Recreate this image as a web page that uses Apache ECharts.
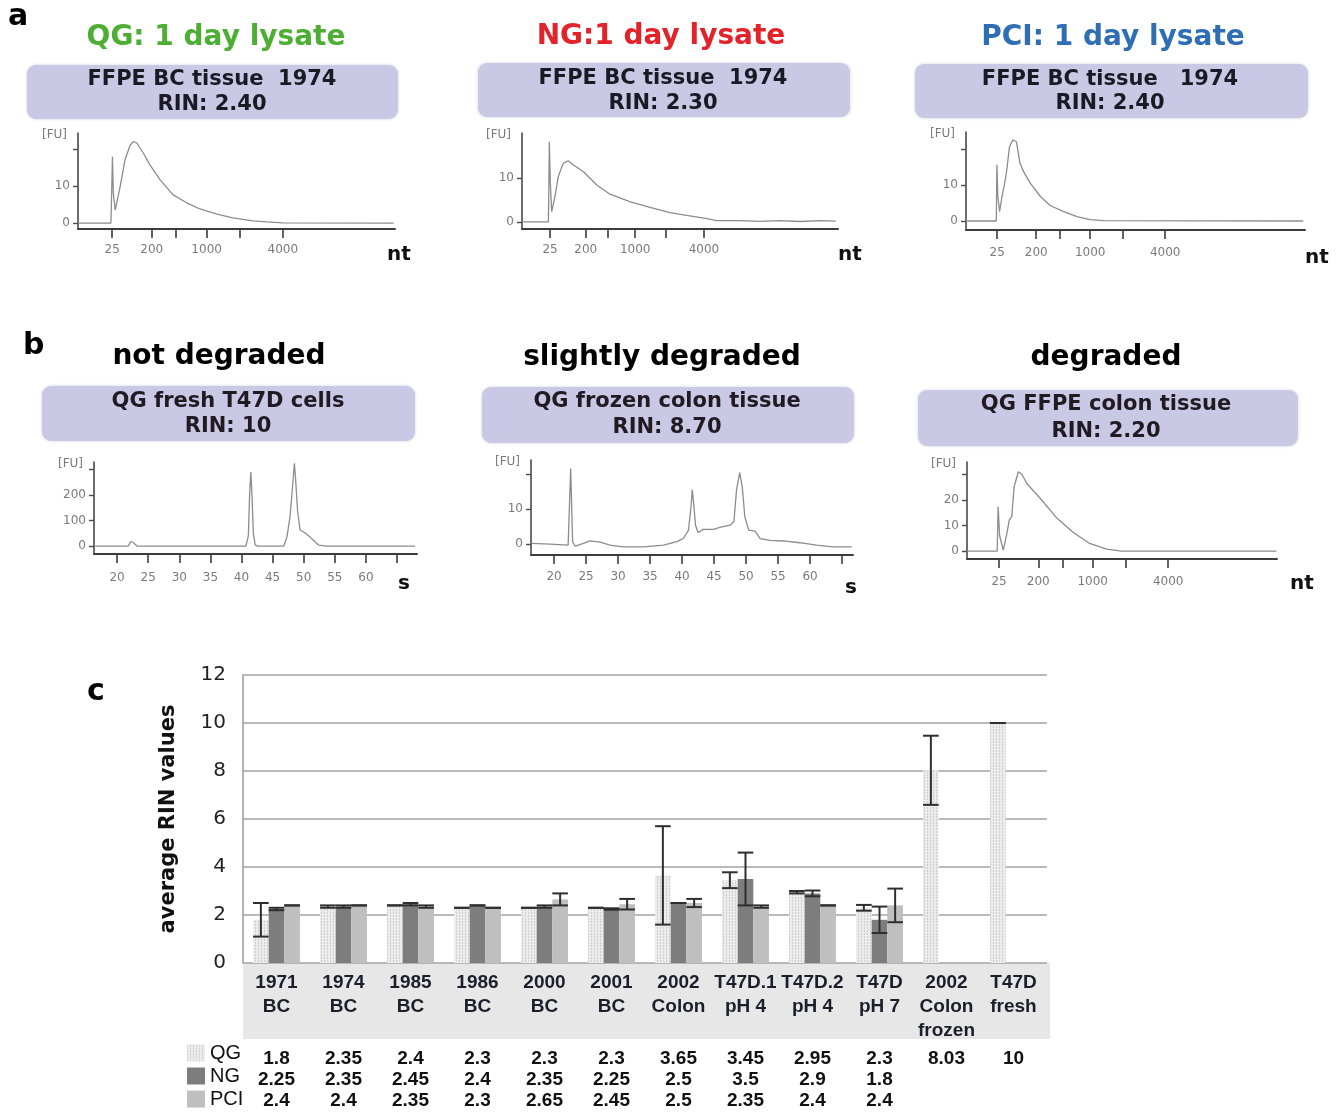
<!DOCTYPE html>
<html><head><meta charset="utf-8">
<script src="https://cdn.jsdelivr.net/npm/echarts@6/dist/echarts.min.js"></script>
<style>html,body{margin:0;padding:0;background:#fff}#c{width:1338px;height:1113px}</style>
</head><body><div id="c"></div>
<script>
// ---------- Panel c data ----------
const categories = ['1971\nBC','1974\nBC','1985\nBC','1986\nBC','2000\nBC','2001\nBC','2002\nColon','T47D.1\npH 4','T47D.2\npH 4','T47D\npH 7','2002\nColon\nfrozen','T47D\nfresh'];
const qgValues  = [1.8, 2.35, 2.4, 2.3, 2.3, 2.3, 3.65, 3.45, 2.95, 2.3, 8.03, 10];
const ngValues  = [2.25, 2.35, 2.45, 2.4, 2.35, 2.25, 2.5, 3.5, 2.9, 1.8, null, null];
const pciValues = [2.4, 2.4, 2.35, 2.3, 2.65, 2.45, 2.5, 2.35, 2.4, 2.4, null, null];
const qgErr  = [0.7, 0.05, 0, 0, 0, 0, 2.05, 0.33, 0.05, 0.12, 1.44, 0];
const ngErr  = [0.05, 0.05, 0.05, 0, 0.05, 0.03, 0, 1.1, 0.12, 0.55, null, null];
const pciErr = [0, 0, 0.05, 0, 0.25, 0.22, 0.17, 0.05, 0, 0.7, null, null];
const rinTicks = [0, 2, 4, 6, 8, 10, 12];

// ---------- Electropherogram axes ----------
const ladderSec = [22.5, 29, 33, 38, 43.5, 50.5];
const ladderNt = ['25', '200', '500', '1000', '2000', '4000'];
const ladderLabelSec = [22.5, 29, 38, 50.5];
const timeTicks = [20, 25, 30, 35, 40, 45, 50, 55, 60, 65];
const timeLabels = [20, 25, 30, 35, 40, 45, 50, 55, 60];

// traces: [time (s), fluorescence (FU)]
const traceQG1974 = [[16.9,0],[22.3,0],[22.45,10],[22.55,17.9],[22.7,8],[23.0,3.5],[23.8,9.7],[24.6,17],[25.45,21],[26.0,22],[26.55,21.6],[27.6,18.9],[28.7,15.7],[30.4,11.6],[32.5,7.6],[34.8,5.4],[36.9,3.8],[39.7,2.4],[42.3,1.4],[45.6,0.6],[47.9,0.3],[50.5,0.05],[68.7,0]];
const traceNG1974 = [[17.4,0],[22.2,0],[22.3,9],[22.37,18.2],[22.55,9],[22.8,2.3],[23.4,5.8],[24.0,10.3],[24.9,13.3],[25.8,13.9],[26.7,13],[28.6,11.4],[31.0,8.4],[33.4,6.3],[37.0,4.6],[40.7,3.3],[44.3,2.1],[47.9,1.4],[50.8,0.8],[52.8,0.3],[57,0.3],[60.7,0.15],[64.3,0.3],[68,0.1],[71.6,0.3],[74.5,0.2]];
const tracePCI1974 = [[17.3,0],[22.35,0],[22.45,15.6],[22.6,7],[22.9,2.6],[23.3,6.8],[23.7,10],[24.1,14.2],[24.55,20.6],[25.1,22.5],[25.7,22],[26.3,16],[26.9,13.7],[28.0,10.5],[29.7,6.8],[31.3,4.3],[33.6,2.6],[35.8,1.2],[38.0,0.4],[40.2,0.1],[73.5,0]];
const traceFreshT47D = [[16.5,0],[21.8,0],[22.2,18],[22.4,24],[22.7,12],[23.2,0],[40.7,0],[41.1,40],[41.3,200],[41.5,290],[41.7,190],[41.9,50],[42.2,5],[42.6,0],[46.8,0],[47.3,36],[47.8,115],[48.2,232],[48.5,324],[48.7,260],[49.0,141],[49.4,63],[50.2,52],[51.0,36],[51.8,17],[52.4,4],[53.7,0],[67.9,0]];
const traceFrozenColon = [[16.5,0.2],[19.4,0],[22.2,-0.3],[22.6,21.6],[22.9,0.7],[23.3,-0.6],[24.6,0.2],[25.6,0.9],[27.2,0.6],[28.75,-0.3],[30.8,-0.8],[34.0,-0.8],[37.1,-0.3],[39.2,0.7],[40.2,1.6],[41.0,4],[41.4,10.7],[41.6,15.6],[41.9,9.7],[42.1,5.4],[42.5,3.3],[43.3,4.2],[44.9,4.2],[45.9,4.8],[47.5,5.4],[48.1,6.4],[48.5,15.4],[49.0,20.4],[49.4,16.4],[49.8,7.8],[50.4,4],[51.4,3.7],[52.2,1.6],[53.75,1.1],[55.8,0.9],[58.4,0.4],[61.0,-0.3],[63.6,-0.8],[66.5,-0.8]];
const traceFFPEColon = [[17.2,0],[22.2,0],[22.35,17.4],[22.6,6],[23.2,0.4],[23.8,6.9],[24.2,12.2],[24.6,13.5],[25.0,25.2],[25.7,31.1],[26.25,30.2],[27.1,26.5],[29.3,20.7],[32.0,13.1],[34.8,7.3],[37.5,3.0],[40.3,0.8],[42.8,0],[68.4,0]];

const panels = [
  {rect:[78,133,317,96],  x:[16.9,68.9], y:[-1.6,24.3], yl:[0,10], yt:[0,10,20], kind:'nt', data:traceQG1974, lm:15},
  {rect:[522,133,316,96], x:[17.4,74.9], y:[-1.6,20.2], yl:[0,10], yt:[0,10], kind:'nt', data:traceNG1974, lm:15},
  {rect:[966,132,339,98], x:[17.3,73.8], y:[-2.5,24.7], yl:[0,10], yt:[0,10,20], kind:'nt', data:tracePCI1974, lm:17},
  {rect:[94,462,323,92],  x:[16.3,68.2], y:[-31,329], yl:[0,100,200], yt:[0,100,200,300], kind:'s', data:traceFreshT47D, lm:18},
  {rect:[531,460,322,95], x:[16.4,66.7], y:[-3.1,24.0], yl:[0,10], yt:[0,10,20], kind:'s', data:traceFrozenColon, lm:16},
  {rect:[967,462,310,97], x:[17.2,68.5], y:[-3.1,34.9], yl:[0,10,20], yt:[0,10,20,30], kind:'nt', data:traceFFPEColon, lm:17}
];

const VERD = '"DejaVu Sans", Verdana, sans-serif';
const ARIAL = '"Liberation Sans", Arial, sans-serif';
const grids = [], xAxes = [], yAxes = [], series = [];

panels.forEach((p, i) => {
  grids.push({left:p.rect[0], top:p.rect[1], width:p.rect[2], height:p.rect[3], outerBoundsMode:'none', containLabel:false});
  xAxes.push({
    type:'value', gridIndex:i, min:p.x[0], max:p.x[1], position:'bottom',
    axisLine:{show:true, onZero:false, lineStyle:{color:'#3c3c3c', width:2}},
    axisTick:{show:true, length:9, customValues: p.kind==='nt' ? ladderSec : timeTicks, lineStyle:{color:'#3c3c3c', width:1.6}},
    axisLabel:{show:true, customValues: p.kind==='nt' ? ladderLabelSec : timeLabels, margin:p.lm, fontSize:12, color:'#7a7a7a', fontFamily:VERD,
      formatter: v => { if (p.kind==='nt') { const k = ladderSec.indexOf(v); return k>=0 ? ladderNt[k] : ''; } return String(v); }},
    splitLine:{show:false}
  });
  yAxes.push({
    type:'value', gridIndex:i, min:p.y[0], max:p.y[1], position:'left',
    name:'[FU]', nameLocation:'end', nameGap:-2,
    nameTextStyle:{align:'right', verticalAlign:'middle', fontSize:12, color:'#7a7a7a', fontFamily:VERD, padding:[0,11,0,0]},
    axisLine:{show:true, onZero:false, lineStyle:{color:'#4a4a4a', width:1.6}},
    axisTick:{show:true, length:5, customValues:p.yt, lineStyle:{color:'#4a4a4a', width:1.4}},
    axisLabel:{show:true, customValues:p.yl, margin:8, fontSize:12, color:'#7a7a7a', fontFamily:VERD},
    splitLine:{show:false}
  });
  series.push({type:'line', xAxisIndex:i, yAxisIndex:i, data:p.data, showSymbol:false, symbol:'none',
    lineStyle:{color:'#8c8c8c', width:1.3}, silent:true, z:3});
});

// ---------- Panel c grid ----------
const CI = 6;
grids.push({left:243, top:675, width:804, height:288, outerBoundsMode:'none', containLabel:false});
xAxes.push({
  type:'category', gridIndex:CI, data:categories, position:'bottom',
  axisLine:{show:false}, axisTick:{show:false},
  axisLabel:{interval:0, margin:8, fontSize:19, lineHeight:24, fontWeight:'bold', color:'#1d1d2b', fontFamily:ARIAL}
});
xAxes.push({
  type:'category', gridIndex:CI, data:categories, position:'bottom', offset:80,
  axisLine:{show:false}, axisTick:{show:false},
  axisLabel:{interval:0, margin:5, fontSize:19, lineHeight:21, fontWeight:'bold', color:'#111', fontFamily:ARIAL,
    formatter:(v, idx) => [qgValues[idx], ngValues[idx], pciValues[idx]].filter(x => x != null).join('\n')}
});
yAxes.push({
  type:'value', gridIndex:CI, min:0, max:12, interval:2,
  name:'average RIN values', nameLocation:'middle', nameRotate:90, nameGap:64,
  nameTextStyle:{fontFamily:VERD, fontWeight:'bold', fontSize:21, color:'#111'},
  axisLine:{show:true, lineStyle:{color:'#9a9a9a', width:1.5}},
  axisTick:{show:false},
  axisLabel:{customValues:rinTicks, fontSize:20, color:'#222', fontFamily:VERD, margin:17},
  splitLine:{show:true, lineStyle:{color:'#a3a3a3', width:1.6}}
});

const GAP = 0.30;
const barBase = {type:'bar', xAxisIndex:CI, yAxisIndex:CI, barGap:'0%', barCategoryGap:'30%', silent:true, z:2};
series.push(Object.assign({}, barBase, {name:'QG', data:qgValues,
  itemStyle:{color:'#ececec', decal:{symbol:'rect', symbolSize:1, dashArrayX:[1,2], dashArrayY:[2,1], color:'#cdcdcd', rotation:0}}}));
series.push(Object.assign({}, barBase, {name:'NG', data:ngValues, itemStyle:{color:'#7d7d7d'}}));
series.push(Object.assign({}, barBase, {name:'PCI', data:pciValues, itemStyle:{color:'#bfbfbf'}}));

function errSeries(name, vals, errs, slot) {
  const data = [];
  vals.forEach((v, i) => { if (v != null && errs[i] != null) data.push([i, v, errs[i]]); });
  return {
    type:'custom', name:name, xAxisIndex:CI, yAxisIndex:CI, data:data, z:10, silent:true,
    renderItem:(params, api) => {
      const i = api.value(0), v = api.value(1), e = api.value(2);
      const band = api.size([1, 0])[0];
      const bw = band * (1 - GAP) / 3;
      const cx = api.coord([i, v])[0] + (slot - 1) * bw;
      const yt = api.coord([i, v + e])[1], yb = api.coord([i, v - e])[1];
      const h = bw / 2;
      const st = {stroke:'#2e2e2e', lineWidth:2};
      return {type:'group', children:[
        {type:'line', shape:{x1:cx, y1:yt, x2:cx, y2:yb}, style:st},
        {type:'line', shape:{x1:cx-h, y1:yt, x2:cx+h, y2:yt}, style:st},
        {type:'line', shape:{x1:cx-h, y1:yb, x2:cx+h, y2:yb}, style:st}
      ]};
    }
  };
}
series.push(errSeries('QG err', qgValues, qgErr, 0));
series.push(errSeries('NG err', ngValues, ngErr, 1));
series.push(errSeries('PCI err', pciValues, pciErr, 2));

// ---------- Graphic texts & boxes ----------
const G = [];
function txt(x, y, text, size, color, align, weight, family) {
  G.push({type:'text', x:x, y:y, z:50, silent:true, style:{text:text, fontSize:size, fontWeight:weight || 'bold',
    fontFamily:family || VERD, fill:color, align:align || 'center', verticalAlign:'middle'}});
}
function box(x, y, w, h) {
  G.push({type:'rect', z:40, silent:true, shape:{x:x, y:y, width:w, height:h, r:9},
    style:{fill:'#c9c8e5', shadowBlur:3, shadowColor:'rgba(120,120,160,0.35)'}});
}
// panel letters
txt(8, 17, 'a', 30, '#000', 'left');
txt(23, 346, 'b', 30, '#000', 'left');
txt(87, 692, 'c', 30, '#000', 'left');
// panel a titles
txt(216, 38, 'QG: 1 day lysate', 28, '#4cae33');
txt(661, 37, 'NG:1 day lysate', 28, '#e3222a');
txt(1113, 38, 'PCI: 1 day lysate', 28, '#2f6db4');
// panel b titles
txt(219, 357, 'not degraded', 28, '#000');
txt(662, 358, 'slightly degraded', 28, '#000');
txt(1106, 358, 'degraded', 28, '#000');
// boxes
box(27, 65, 371, 54); txt(212, 80, 'FFPE BC tissue  1974', 21, '#1b1a24'); txt(212, 105, 'RIN: 2.40', 21, '#1b1a24');
box(478, 63, 372, 54); txt(663, 79, 'FFPE BC tissue  1974', 21, '#1b1a24'); txt(663, 104, 'RIN: 2.30', 21, '#1b1a24');
box(915, 64, 393, 54); txt(1110, 80, 'FFPE BC tissue   1974', 21, '#1b1a24'); txt(1110, 104, 'RIN: 2.40', 21, '#1b1a24');
box(42, 386, 373, 55); txt(228, 402, 'QG fresh T47D cells', 21, '#221a22'); txt(228, 427, 'RIN: 10', 21, '#221a22');
box(482, 387, 372, 56); txt(667, 402, 'QG frozen colon tissue', 21, '#221a22'); txt(667, 428, 'RIN: 8.70', 21, '#221a22');
box(918, 390, 380, 56); txt(1106, 405, 'QG FFPE colon tissue', 21, '#221a22'); txt(1106, 432, 'RIN: 2.20', 21, '#221a22');
// x-axis units
txt(387, 255, 'nt', 20, '#111', 'left');
txt(838, 255, 'nt', 20, '#111', 'left');
txt(1305, 258, 'nt', 20, '#111', 'left');
txt(398, 584, 's', 20, '#111', 'left');
txt(845, 588, 's', 20, '#111', 'left');
txt(1290, 584, 'nt', 20, '#111', 'left');
// category band behind panel c labels
G.push({type:'rect', z:-10, silent:true, shape:{x:243, y:963, width:807, height:76}, style:{fill:'#e7e7e7'}});

const chart = echarts.init(document.getElementById('c'), null, {renderer:'canvas'});
chart.setOption({
  backgroundColor:'#ffffff',
  animation:false,
  grid:grids, xAxis:xAxes, yAxis:yAxes, series:series,
  legend:{data:['QG','NG','PCI'], orient:'vertical', left:187, top:1043, padding:0, itemWidth:18, itemHeight:17, itemGap:3,
    icon:'rect', selectedMode:false, textStyle:{fontSize:20, lineHeight:20, color:'#111', fontFamily:ARIAL}},
  graphic:G
});
</script></body></html>
